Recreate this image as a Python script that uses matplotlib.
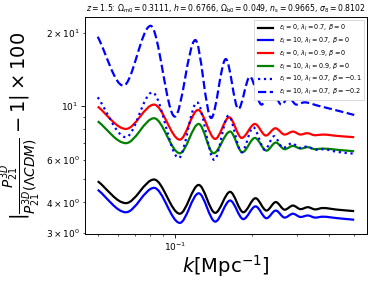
import numpy as np
import matplotlib
matplotlib.use('Agg')
import matplotlib.pyplot as plt
from matplotlib.path import Path
from matplotlib.patches import PathPatch
from matplotlib.lines import Line2D

# ---- data (k in Mpc^-1, value = |P/P_LCDM - 1| x 100) ----
k_black = [0.050, 0.0644, 0.0829, 0.1045, 0.1238, 0.1436, 0.1641, 0.1848, 0.2062, 0.2276,
           0.2473, 0.2679, 0.2886, 0.3090, 0.3298, 0.3522, 0.3771, 0.431, 0.500]
v_black = [4.89, 3.97, 4.97, 3.59, 4.72, 3.62, 4.42, 3.64, 4.16, 3.70,
           4.01, 3.73, 3.88, 3.75, 3.82, 3.74, 3.79, 3.73, 3.68]

k_blue = k_black
v_blue = [4.51, 3.64, 4.59, 3.29, 4.36, 3.33, 4.07, 3.41, 3.85, 3.44,
          3.70, 3.46, 3.59, 3.48, 3.53, 3.46, 3.49, 3.44, 3.39]

k_red = [0.050, 0.0644, 0.0829, 0.1045, 0.1230, 0.1436, 0.1627, 0.1821, 0.2050, 0.2262,
         0.2465, 0.2679, 0.2886, 0.3090, 0.3278, 0.3522, 0.3771, 0.431, 0.500]
v_red = [9.94, 8.04, 10.13, 7.26, 9.63, 7.31, 8.98, 7.38, 8.43, 7.55,
         8.09, 7.62, 7.84, 7.62, 7.72, 7.57, 7.62, 7.52, 7.43]

k_green = [0.050, 0.0644, 0.0829, 0.1045, 0.1238, 0.1414, 0.1641, 0.1832, 0.2050, 0.2276,
           0.2473, 0.2679, 0.2886, 0.3090, 0.3298, 0.3522, 0.3771, 0.431, 0.500]
v_green = [8.65, 7.02, 8.90, 6.38, 8.43, 6.38, 7.84, 6.44, 7.38, 6.54,
           7.06, 6.63, 6.84, 6.67, 6.76, 6.63, 6.67, 6.59, 6.50]

k_dot = [0.050, 0.0644, 0.0816, 0.1035, 0.1219, 0.1423, 0.1617, 0.1821, 0.2020, 0.2242,
         0.2436, 0.2640, 0.2860, 0.3062, 0.3278, 0.3522, 0.3771, 0.431, 0.500]
v_dot = [10.86, 7.43, 11.38, 6.10, 10.35, 5.99, 9.12, 6.44, 8.17, 6.59,
         7.50, 6.71, 7.02, 6.71, 6.80, 6.59, 6.63, 6.46, 6.35]

k_dash = [0.050, 0.0629, 0.0804, 0.0999, 0.1201, 0.1385, 0.1579, 0.1768, 0.1961, 0.2176,
          0.2379, 0.2601, 0.2777, 0.2973, 0.3201, 0.3606, 0.4062, 0.500]
v_dash = [19.31, 12.13, 21.43, 9.04, 18.71, 8.92, 15.62, 9.72, 13.21, 10.13,
          11.75, 10.13, 10.86, 10.13, 10.35, 10.03, 9.72, 9.18]

labels = [r'$\epsilon_I=0,\,\lambda_I=0.7,\,\beta=0$',
          r'$\epsilon_I=10,\,\lambda_I=0.7,\,\beta=0$',
          r'$\epsilon_I=0,\,\lambda_I=0.9,\,\beta=0$',
          r'$\epsilon_I=10,\,\lambda_I=0.9,\,\beta=0$',
          r'$\epsilon_I=10,\,\lambda_I=0.7,\,\beta=-0.1$',
          r'$\epsilon_I=10,\,\lambda_I=0.7,\,\beta=-0.2$']

title = (r'$z=1.5$: $\Omega_{\rm m0}=0.3111$, $h=0.6766$, $\Omega_{\rm b0}=0.049$, '
         r'$n_{\rm s}=0.9665$, $\sigma_8=0.8102$')


def smooth_path(k, v):
    """Smooth (monotone cubic) rendering through the read points in log-log space."""
    x = np.log10(np.asarray(k, float))
    y = np.log10(np.asarray(v, float))
    h = np.diff(x)
    d = np.diff(y) / h
    n = len(x)
    m = np.zeros(n)
    m[0] = d[0]
    m[-1] = d[-1]
    for i in range(1, n - 1):
        if d[i - 1] * d[i] <= 0:
            m[i] = 0.0
        else:
            w1 = 2 * h[i] + h[i - 1]
            w2 = h[i] + 2 * h[i - 1]
            m[i] = (w1 + w2) / (w1 / d[i - 1] + w2 / d[i])
    verts = [(x[0], y[0])]
    codes = [Path.MOVETO]
    for i in range(n - 1):
        verts += [(x[i] + h[i] / 3, y[i] + m[i] * h[i] / 3),
                  (x[i + 1] - h[i] / 3, y[i + 1] - m[i + 1] * h[i] / 3),
                  (x[i + 1], y[i + 1])]
        codes += [Path.CURVE4] * 3
    return Path(10 ** np.array(verts), codes)


fig = plt.figure(figsize=(3.74, 2.83), dpi=100)
ax = fig.add_axes([0.2273, 0.1731, 0.754, 0.7668])
ax.set_xscale('log')
ax.set_yscale('log')

series = [(k_black, v_black, 'black', '-'),
          (k_blue, v_blue, 'blue', '-'),
          (k_red, v_red, 'red', '-'),
          (k_green, v_green, 'green', '-'),
          (k_dot, v_dot, 'blue', ':'),
          (k_dash, v_dash, 'blue', '--')]

handles = []
for (k, v, c, ls), lab in zip(series, labels):
    patch = PathPatch(smooth_path(k, v), facecolor='none', edgecolor=c,
                      lw=1.6, linestyle=ls, transform=ax.transData)
    ax.add_patch(patch)
    handles.append(Line2D([], [], color=c, lw=1.6, linestyle=ls))

ax.set_xlim(0.0446, 0.561)
ax.set_ylim(2.96, 23.3)

ax.tick_params(which='major', labelsize=6.5, length=3, width=0.6, pad=2)
ax.tick_params(which='minor', labelsize=6.5, length=1.7, width=0.5, pad=2)
for s in ax.spines.values():
    s.set_linewidth(0.7)

ax.set_title(title, fontsize=5.6, pad=4)
ax.set_xlabel(r'$k [{\rm Mpc}^{-1}]$', fontsize=14, labelpad=0)
ax.set_ylabel(r'$|\frac{P_{21}^{3D}}{P_{21}^{3D}(\Lambda CDM)}-1|\times 100$',
              fontsize=14, labelpad=2)

leg = ax.legend(handles, labels, loc='upper right', fontsize=4.7,
                handlelength=2.4, borderaxespad=0.4, labelspacing=0.4,
                borderpad=0.5, framealpha=1.0, fancybox=False)
leg.get_frame().set_linewidth(0.5)
leg.get_frame().set_edgecolor('#cccccc')

fig.savefig('out.png', dpi=100)
